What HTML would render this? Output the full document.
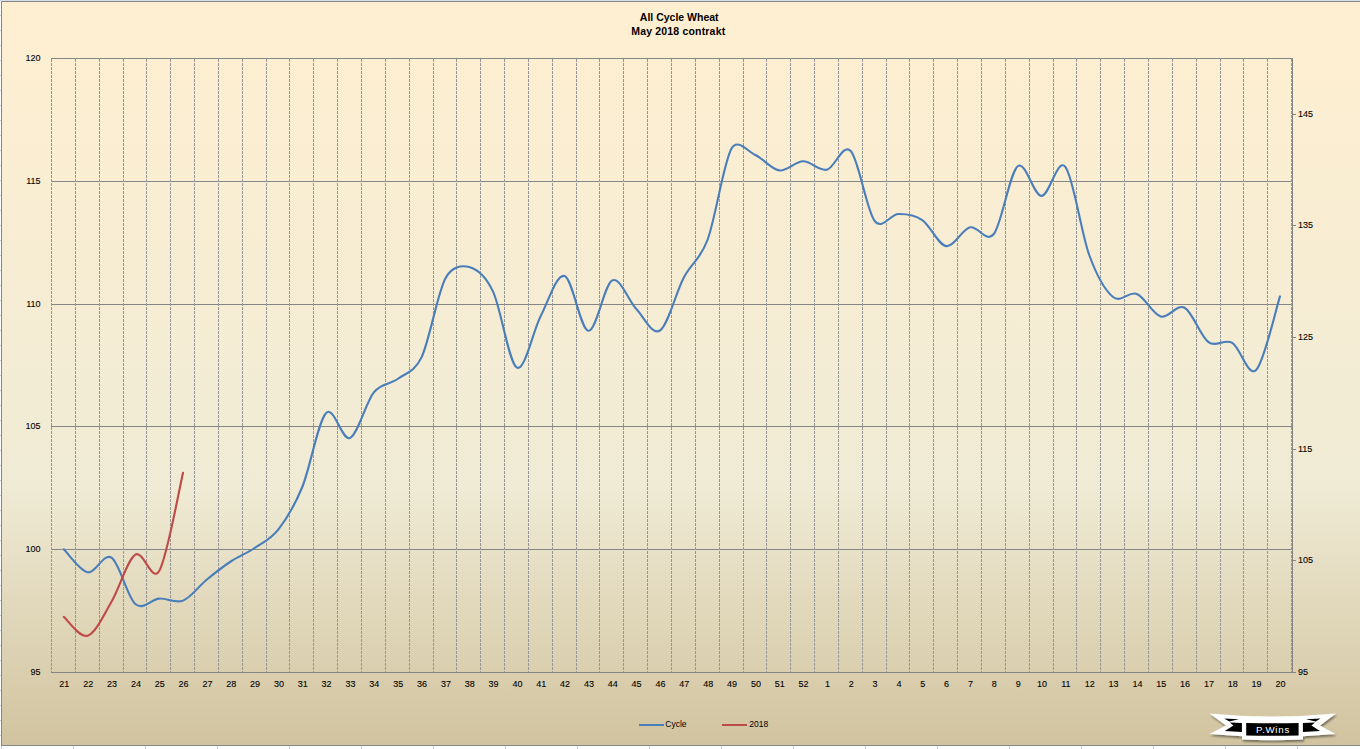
<!DOCTYPE html>
<html><head><meta charset="utf-8"><title>All Cycle Wheat</title>
<style>
html,body{margin:0;padding:0;width:1360px;height:749px;overflow:hidden;background:#fff}
.wrap{position:relative;width:1360px;height:749px}
text{font-family:"Liberation Sans",sans-serif;fill:#000}
.ax{font-size:9px;stroke:#000;stroke-width:0.1px}
.ti{font-size:10.5px;font-weight:bold}
.ti2{font-size:10.5px;font-weight:bold;letter-spacing:0.18px}
.lg{font-size:8.5px}
.lo{font-size:9.7px;fill:#fff;letter-spacing:0.8px}
</style></head><body><div class="wrap">
<svg width="1360" height="749" viewBox="0 0 1360 749" style="position:absolute;left:0;top:0">
<defs><linearGradient id="bg" x1="0" y1="0" x2="0" y2="1"><stop offset="0" stop-color="#FFEFD1"/><stop offset="0.65" stop-color="#F0EBD5"/><stop offset="1" stop-color="#D1C39F"/></linearGradient></defs>
<rect x="0" y="0" width="1360" height="749" fill="#ffffff"/>
<rect x="0" y="0" width="1360" height="1" fill="#D5DCEA"/>
<rect x="1" y="1" width="1359" height="745" fill="url(#bg)"/>
<path d="M0,15.5 H1 M0,30.5 H1 M0,45.5 H1 M0,60.5 H1 M0,75.5 H1 M0,90.5 H1 M0,105.5 H1 M0,120.5 H1 M0,135.5 H1 M0,150.5 H1 M0,165.5 H1 M0,180.5 H1 M0,195.5 H1 M0,210.5 H1 M0,225.5 H1 M0,240.5 H1 M0,255.5 H1 M0,270.5 H1 M0,285.5 H1 M0,300.5 H1 M0,315.5 H1 M0,330.5 H1 M0,345.5 H1 M0,360.5 H1 M0,375.5 H1 M0,390.5 H1 M0,405.5 H1 M0,420.5 H1 M0,435.5 H1 M0,450.5 H1 M0,465.5 H1 M0,480.5 H1 M0,495.5 H1 M0,510.5 H1 M0,525.5 H1 M0,540.5 H1 M0,555.5 H1 M0,570.5 H1 M0,585.5 H1 M0,600.5 H1 M0,615.5 H1 M0,630.5 H1 M0,645.5 H1 M0,660.5 H1 M0,675.5 H1 M0,690.5 H1 M0,705.5 H1 M0,720.5 H1 M0,735.5 H1 M1.5,746 V749 M73.5,746 V749 M145.5,746 V749 M217.5,746 V749 M289.5,746 V749 M361.5,746 V749 M433.5,746 V749 M505.5,746 V749 M577.5,746 V749 M649.5,746 V749 M721.5,746 V749 M793.5,746 V749 M865.5,746 V749 M937.5,746 V749 M1009.5,746 V749 M1081.5,746 V749 M1153.5,746 V749 M1225.5,746 V749 M1297.5,746 V749" stroke="#C5CEE0" stroke-width="1"/>
<path d="M1.5,746 V1.5 H1360 M1,745.5 H1360" stroke="#868686" stroke-width="1" fill="none"/>
<path d="M51,58.5 H1292 M51,181.5 H1292 M51,304.5 H1292 M51,426.5 H1292 M51,549.5 H1292" stroke="#868686" stroke-width="1" fill="none"/>
<path d="M51.5,59 V672 M75.5,59 V672 M99.5,59 V672 M123.5,59 V672 M146.5,59 V672 M170.5,59 V672 M194.5,59 V672 M218.5,59 V672 M242.5,59 V672 M266.5,59 V672 M289.5,59 V672 M313.5,59 V672 M337.5,59 V672 M361.5,59 V672 M385.5,59 V672 M409.5,59 V672 M433.5,59 V672 M456.5,59 V672 M480.5,59 V672 M504.5,59 V672 M528.5,59 V672 M552.5,59 V672 M576.5,59 V672 M599.5,59 V672 M623.5,59 V672 M647.5,59 V672 M671.5,59 V672 M695.5,59 V672 M719.5,59 V672 M743.5,59 V672 M766.5,59 V672 M790.5,59 V672 M814.5,59 V672 M838.5,59 V672 M862.5,59 V672 M886.5,59 V672 M909.5,59 V672 M933.5,59 V672 M957.5,59 V672 M981.5,59 V672 M1005.5,59 V672 M1029.5,59 V672 M1053.5,59 V672 M1076.5,59 V672 M1100.5,59 V672 M1124.5,59 V672 M1148.5,59 V672 M1172.5,59 V672 M1196.5,59 V672 M1220.5,59 V672 M1243.5,59 V672 M1267.5,59 V672 M1291.5,59 V672" stroke="#969696" stroke-width="1" fill="none" stroke-dasharray="3 1"/>
<path d="M51,672.5 H1296 M1292.5,58 V673" stroke="#868686" stroke-width="1" fill="none"/>
<path d="M1293,560.5 H1296 M1293,449.5 H1296 M1293,337.5 H1296 M1293,225.5 H1296 M1293,114.5 H1296" stroke="#868686" stroke-width="1"/>
<path d="M63.82,549.30 C67.80,553.13 79.72,570.90 87.67,572.30 C95.62,573.70 103.57,552.42 111.52,557.70 C119.46,562.98 127.41,597.18 135.36,604.00 C143.31,610.82 151.26,599.17 159.21,598.60 C167.16,598.03 175.11,603.78 183.05,600.60 C191.00,597.42 198.95,586.02 206.90,579.50 C214.85,572.98 222.80,566.75 230.75,561.50 C238.69,556.25 246.64,553.37 254.59,548.00 C262.54,542.63 270.49,539.47 278.44,529.30 C286.39,519.13 294.34,506.38 302.28,487.00 C310.23,467.62 318.18,421.17 326.13,413.00 C334.08,404.83 342.03,441.45 349.98,438.00 C357.93,434.55 365.87,402.13 373.82,392.30 C381.77,382.47 389.72,384.82 397.67,379.00 C405.62,373.18 414.62,371.93 421.52,357.40 C429.46,340.65 437.41,293.57 445.36,278.50 C451.54,266.79 461.26,264.82 469.21,267.00 C477.16,269.18 485.72,276.12 493.05,291.60 C501.00,308.37 508.95,363.53 516.90,367.60 C524.85,371.67 532.80,331.27 540.75,316.00 C548.69,300.73 556.64,273.53 564.59,276.00 C572.54,278.47 580.49,330.07 588.44,330.80 C596.39,331.53 604.34,284.07 612.28,280.40 C620.23,276.73 628.18,300.45 636.13,308.80 C644.08,317.15 652.03,335.72 659.98,330.50 C667.93,325.28 675.87,292.67 683.82,277.50 C691.77,262.33 699.89,260.54 707.67,239.50 C715.62,218.00 723.57,162.58 731.52,148.50 C737.59,137.74 747.41,151.35 755.36,155.00 C763.31,158.65 771.26,169.35 779.21,170.40 C787.16,171.45 795.11,161.42 803.05,161.30 C811.00,161.18 818.95,171.42 826.90,169.70 C834.85,167.98 842.80,142.48 850.75,151.00 C858.69,159.52 866.64,210.30 874.59,220.80 C882.08,230.69 890.49,214.12 898.44,214.00 C906.39,213.88 914.34,214.75 922.28,220.10 C930.23,225.45 938.18,244.90 946.13,246.10 C954.08,247.30 962.03,229.32 969.98,227.30 C977.93,225.28 986.19,243.76 993.82,234.00 C1001.77,223.83 1009.72,172.65 1017.67,166.30 C1025.62,159.95 1033.57,195.82 1041.52,195.90 C1049.46,195.98 1057.41,156.95 1065.36,166.80 C1073.31,176.65 1081.26,233.30 1089.21,255.00 C1097.16,276.70 1105.11,290.50 1113.05,297.00 C1121.00,303.50 1128.95,290.75 1136.90,294.00 C1144.85,297.25 1152.80,314.22 1160.75,316.50 C1168.69,318.78 1176.64,303.43 1184.59,307.70 C1192.54,311.97 1200.49,336.23 1208.44,342.10 C1216.39,347.97 1224.34,338.25 1232.28,342.90 C1240.23,347.55 1248.18,377.75 1256.13,370.00 C1264.08,362.25 1276.00,308.67 1279.98,296.40" stroke="#4A7EBA" stroke-width="2.1" fill="none" stroke-linejoin="round" stroke-linecap="round"/>
<path d="M63.82,616.90 C67.80,620.03 79.72,638.23 87.67,635.70 C95.62,633.17 103.57,615.22 111.52,601.70 C119.46,588.18 127.41,559.72 135.36,554.60 C143.31,549.48 151.93,583.50 159.21,571.00 C167.16,557.35 179.08,489.08 183.05,472.70" stroke="#BF4B48" stroke-width="2.1" fill="none" stroke-linejoin="round" stroke-linecap="round"/>
<path d="M639,725 H664" stroke="#4A7EBA" stroke-width="2"/>
<path d="M722,725 H747" stroke="#BF4B48" stroke-width="2"/>
<defs><filter id="sh" x="-10%" y="-30%" width="120%" height="180%"><feGaussianBlur in="SourceAlpha" stdDeviation="1"/><feOffset dx="0.5" dy="1.5"/><feComponentTransfer><feFuncA type="linear" slope="0.45"/></feComponentTransfer><feMerge><feMergeNode/><feMergeNode in="SourceGraphic"/></feMerge></filter></defs>
<g filter="url(#sh)"><path d="M1209.5,713.5 Q1272,719.5 1336,713.5 L1320,725.6 L1335.5,734 L1303,736.2 L1303,739.4 Q1272,741 1242,739.5 L1242,736.3 L1209.5,734 L1226,725.6 Z" fill="#fff"/></g>
<path d="M1246.2,722.9 Q1272,723.6 1298.6,723.0 L1298.6,735.4 Q1272,736.2 1246.2,735.4 Z" fill="#000"/>
<path d="M1224.3,718.5 L1238.8,719.2 L1229.2,721.4 Z" fill="#000"/><path d="M1229.8,722.4 L1241.9,722.9 L1241.9,732.1 L1224.8,730.9 L1233.4,725.6 Z" fill="#000"/>
<g transform="translate(2544.8,0) scale(-1,1)"><path d="M1224.3,718.5 L1238.8,719.2 L1229.2,721.4 Z" fill="#000"/><path d="M1229.8,722.4 L1241.9,722.9 L1241.9,732.1 L1224.8,730.9 L1233.4,725.6 Z" fill="#000"/></g>
</svg>
<svg width="1360" height="749" style="position:absolute;left:0;top:0"><text x="40.5" y="61.3" text-anchor="end" class="ax">120</text><text x="40.5" y="184.3" text-anchor="end" class="ax">115</text><text x="40.5" y="307.3" text-anchor="end" class="ax">110</text><text x="40.5" y="429.3" text-anchor="end" class="ax">105</text><text x="40.5" y="552.3" text-anchor="end" class="ax">100</text><text x="40.5" y="675.3" text-anchor="end" class="ax">95</text><text x="1298.0" y="675.3" text-anchor="start" class="ax">95</text><text x="1298.0" y="563.3" text-anchor="start" class="ax">105</text><text x="1298.0" y="452.3" text-anchor="start" class="ax">115</text><text x="1298.0" y="340.3" text-anchor="start" class="ax">125</text><text x="1298.0" y="228.3" text-anchor="start" class="ax">135</text><text x="1298.0" y="117.3" text-anchor="start" class="ax">145</text><text x="64.3" y="687.3" text-anchor="middle" class="ax">21</text><text x="88.2" y="687.3" text-anchor="middle" class="ax">22</text><text x="112.0" y="687.3" text-anchor="middle" class="ax">23</text><text x="135.9" y="687.3" text-anchor="middle" class="ax">24</text><text x="159.7" y="687.3" text-anchor="middle" class="ax">25</text><text x="183.6" y="687.3" text-anchor="middle" class="ax">26</text><text x="207.4" y="687.3" text-anchor="middle" class="ax">27</text><text x="231.2" y="687.3" text-anchor="middle" class="ax">28</text><text x="255.1" y="687.3" text-anchor="middle" class="ax">29</text><text x="278.9" y="687.3" text-anchor="middle" class="ax">30</text><text x="302.8" y="687.3" text-anchor="middle" class="ax">31</text><text x="326.6" y="687.3" text-anchor="middle" class="ax">32</text><text x="350.5" y="687.3" text-anchor="middle" class="ax">33</text><text x="374.3" y="687.3" text-anchor="middle" class="ax">34</text><text x="398.2" y="687.3" text-anchor="middle" class="ax">35</text><text x="422.0" y="687.3" text-anchor="middle" class="ax">36</text><text x="445.9" y="687.3" text-anchor="middle" class="ax">37</text><text x="469.7" y="687.3" text-anchor="middle" class="ax">38</text><text x="493.6" y="687.3" text-anchor="middle" class="ax">39</text><text x="517.4" y="687.3" text-anchor="middle" class="ax">40</text><text x="541.2" y="687.3" text-anchor="middle" class="ax">41</text><text x="565.1" y="687.3" text-anchor="middle" class="ax">42</text><text x="588.9" y="687.3" text-anchor="middle" class="ax">43</text><text x="612.8" y="687.3" text-anchor="middle" class="ax">44</text><text x="636.6" y="687.3" text-anchor="middle" class="ax">45</text><text x="660.5" y="687.3" text-anchor="middle" class="ax">46</text><text x="684.3" y="687.3" text-anchor="middle" class="ax">47</text><text x="708.2" y="687.3" text-anchor="middle" class="ax">48</text><text x="732.0" y="687.3" text-anchor="middle" class="ax">49</text><text x="755.9" y="687.3" text-anchor="middle" class="ax">50</text><text x="779.7" y="687.3" text-anchor="middle" class="ax">51</text><text x="803.6" y="687.3" text-anchor="middle" class="ax">52</text><text x="827.4" y="687.3" text-anchor="middle" class="ax">1</text><text x="851.2" y="687.3" text-anchor="middle" class="ax">2</text><text x="875.1" y="687.3" text-anchor="middle" class="ax">3</text><text x="898.9" y="687.3" text-anchor="middle" class="ax">4</text><text x="922.8" y="687.3" text-anchor="middle" class="ax">5</text><text x="946.6" y="687.3" text-anchor="middle" class="ax">6</text><text x="970.5" y="687.3" text-anchor="middle" class="ax">7</text><text x="994.3" y="687.3" text-anchor="middle" class="ax">8</text><text x="1018.2" y="687.3" text-anchor="middle" class="ax">9</text><text x="1042.0" y="687.3" text-anchor="middle" class="ax">10</text><text x="1065.9" y="687.3" text-anchor="middle" class="ax">11</text><text x="1089.7" y="687.3" text-anchor="middle" class="ax">12</text><text x="1113.6" y="687.3" text-anchor="middle" class="ax">13</text><text x="1137.4" y="687.3" text-anchor="middle" class="ax">14</text><text x="1161.2" y="687.3" text-anchor="middle" class="ax">15</text><text x="1185.1" y="687.3" text-anchor="middle" class="ax">16</text><text x="1208.9" y="687.3" text-anchor="middle" class="ax">17</text><text x="1232.8" y="687.3" text-anchor="middle" class="ax">18</text><text x="1256.6" y="687.3" text-anchor="middle" class="ax">19</text><text x="1280.5" y="687.3" text-anchor="middle" class="ax">20</text><text x="679.2" y="21.0" text-anchor="middle" class="ti">All Cycle Wheat</text><text x="678.3" y="35.0" text-anchor="middle" class="ti2">May 2018 contrakt</text><text x="665.3" y="726.6" text-anchor="start" class="lg">Cycle</text><text x="749.3" y="726.6" text-anchor="start" class="lg">2018</text><text x="1255.9" y="733.2" text-anchor="start" class="lo">P.Wins</text></svg>
</div></body></html>
